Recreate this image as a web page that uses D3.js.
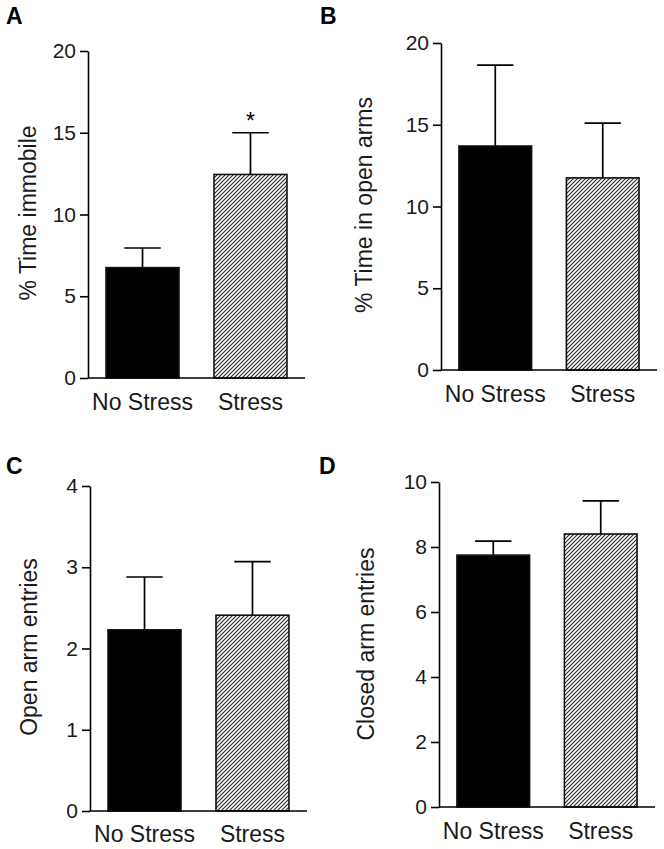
<!DOCTYPE html>
<html>
<head>
<meta charset="utf-8">
<script src="https://cdn.jsdelivr.net/npm/d3@7"></script>
<style>
  html, body { margin: 0; padding: 0; background: #fff; }
  svg { display: block; }
  text { font-family: "Liberation Sans", Arial, sans-serif; fill: #1a1a1a; }
</style>
</head>
<body>
<svg id="chart" width="664" height="849"></svg>
<script>
// ---- data ----
const categories = ["No Stress", "Stress"];

const immobileMean = [6.75, 12.45];
const immobileSEM = [1.2, 2.55];
const immobileTicks = [0, 5, 10, 15, 20];
const immobileSig = ["", "*"];

const openTimeMean = [13.7, 11.75];
const openTimeSEM = [4.95, 3.35];
const openTimeTicks = [0, 5, 10, 15, 20];

const openEntriesMean = [2.23, 2.41];
const openEntriesSEM = [0.65, 0.66];
const openEntriesTicks = [0, 1, 2, 3, 4];

const closedEntriesMean = [7.75, 8.4];
const closedEntriesSEM = [0.43, 1.02];
const closedEntriesTicks = [0, 2, 4, 6, 8, 10];

const panelLetters = ["A", "B", "C", "D"];
const yLabels = ["% Time immobile", "% Time in open arms", "Open arm entries", "Closed arm entries"];

// ---- layout ----
const svg = d3.select("#chart");
const defs = svg.append("defs");
const pat = defs.append("pattern")
  .attr("id", "hatch").attr("patternUnits", "userSpaceOnUse")
  .attr("width", 4).attr("height", 4);
pat.append("rect").attr("width", 4).attr("height", 4).attr("fill", "#fff");
pat.append("path")
  .attr("d", "M-1,1 l2,-2 M0,4 l4,-4 M3,5 l2,-2")
  .attr("stroke", "#2a2a2a").attr("stroke-width", 1.15);

const panels = [
  { letter: panelLetters[0], lx: 6, ly: 24, axisX: 88, xEnd: 305, y0: 378, yTop: 51,
    mean: immobileMean, sem: immobileSEM, ticks: immobileTicks, sig: immobileSig,
    ylab: yLabels[0], ylabX: 36, ylabY: 213, xlabY: 410 },
  { letter: panelLetters[1], lx: 320, ly: 24, axisX: 441, xEnd: 657, y0: 370, yTop: 43,
    mean: openTimeMean, sem: openTimeSEM, ticks: openTimeTicks, sig: null,
    ylab: yLabels[1], ylabX: 372, ylabY: 205, xlabY: 402 },
  { letter: panelLetters[2], lx: 6, ly: 474, axisX: 90, xEnd: 307, y0: 811, yTop: 486,
    mean: openEntriesMean, sem: openEntriesSEM, ticks: openEntriesTicks, sig: null,
    ylab: yLabels[2], ylabX: 37, ylabY: 647, xlabY: 842 },
  { letter: panelLetters[3], lx: 319, ly: 474, axisX: 439, xEnd: 655, y0: 807, yTop: 482,
    mean: closedEntriesMean, sem: closedEntriesSEM, ticks: closedEntriesTicks, sig: null,
    ylab: yLabels[3], ylabX: 374, ylabY: 644, xlabY: 839 }
];

panels.forEach(p => {
  const g = svg.append("g");
  const y = d3.scaleLinear()
    .domain([0, d3.max(p.ticks)])
    .range([p.y0, p.yTop]);
  const x = d3.scaleBand()
    .domain(categories)
    .range([p.axisX, p.xEnd])
    .paddingInner(0.324)
    .paddingOuter(0.167);

  // panel letter
  g.append("text")
    .attr("x", p.lx).attr("y", p.ly)
    .attr("font-size", 23).attr("font-weight", "bold")
    .style("fill", "#000")
    .text(p.letter);

  // y axis
  const ax = g.append("g")
    .attr("transform", `translate(${p.axisX},0)`)
    .call(d3.axisLeft(y).tickValues(p.ticks).tickSize(8).tickSizeOuter(0).tickPadding(4)
      .tickFormat(d3.format("d")));
  ax.select(".domain").attr("stroke", "#000").attr("stroke-width", 1.6);
  ax.selectAll(".tick line").attr("stroke", "#000").attr("stroke-width", 1.6);
  ax.selectAll(".tick text")
    .attr("font-size", 21)
    .attr("font-family", "Liberation Sans, Arial, sans-serif")
    .style("fill", "#1a1a1a");

  // bars
  g.selectAll("rect.bar")
    .data(categories)
    .join("rect")
    .attr("class", "bar")
    .attr("x", d => x(d))
    .attr("width", x.bandwidth())
    .attr("y", (d, i) => y(p.mean[i]))
    .attr("height", (d, i) => y(0) - y(p.mean[i]))
    .attr("fill", (d, i) => i === 0 ? "#000" : "url(#hatch)")
    .attr("stroke", "#111")
    .attr("stroke-width", 1.6);

  // error bars (upper only)
  const capW = x.bandwidth() * 0.5;
  categories.forEach((c, i) => {
    const cx = x(c) + x.bandwidth() / 2;
    const top = y(p.mean[i] + p.sem[i]);
    g.append("line")
      .attr("x1", cx).attr("x2", cx)
      .attr("y1", y(p.mean[i])).attr("y2", top)
      .attr("stroke", "#000").attr("stroke-width", 1.7);
    g.append("line")
      .attr("x1", cx - capW / 2).attr("x2", cx + capW / 2)
      .attr("y1", top).attr("y2", top)
      .attr("stroke", "#000").attr("stroke-width", 1.7);
    if (p.sig && p.sig[i]) {
      g.append("text")
        .attr("x", cx).attr("y", top - 4)
        .attr("text-anchor", "middle")
        .attr("font-size", 23)
        .style("fill", "#000")
        .text(p.sig[i]);
    }
  });

  // x axis baseline
  g.append("line")
    .attr("x1", p.axisX).attr("x2", p.xEnd)
    .attr("y1", y(0)).attr("y2", y(0))
    .attr("stroke", "#000").attr("stroke-width", 1.6);

  // x labels
  g.selectAll("text.xlab")
    .data(categories)
    .join("text")
    .attr("class", "xlab")
    .attr("x", d => x(d) + x.bandwidth() / 2)
    .attr("y", p.xlabY)
    .attr("text-anchor", "middle")
    .attr("font-size", 23)
    .text(d => d);

  // y label
  g.append("text")
    .attr("transform", `translate(${p.ylabX},${p.ylabY}) rotate(-90)`)
    .attr("text-anchor", "middle")
    .attr("font-size", 23)
    .text(p.ylab);
});
</script>
</body>
</html>
